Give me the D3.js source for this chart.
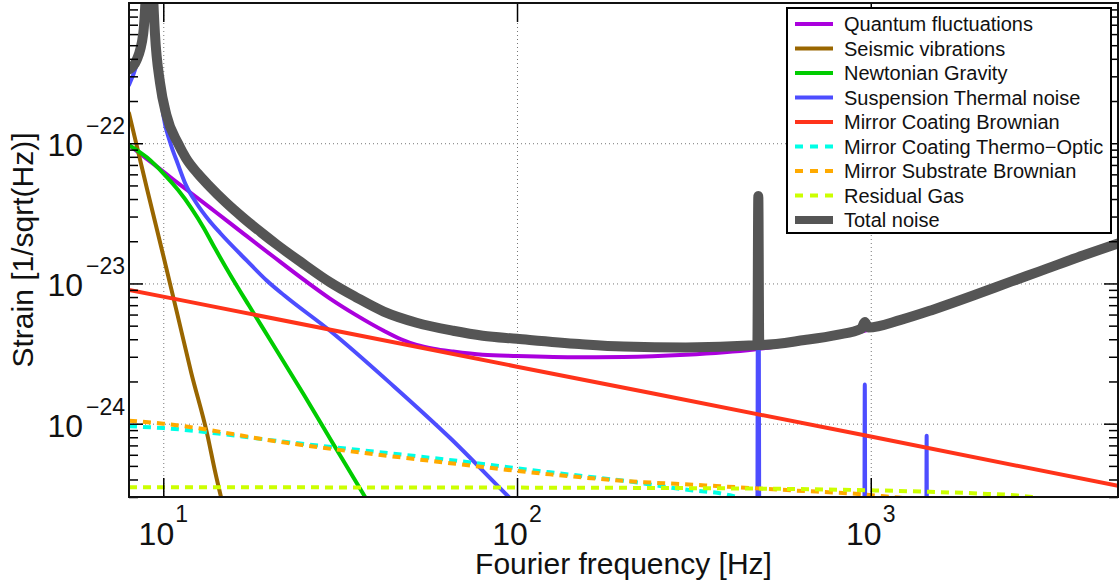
<!DOCTYPE html>
<html>
<head>
<meta charset="utf-8">
<script src="https://cdn.jsdelivr.net/npm/d3@7"></script>
<style>
  body { margin: 0; background: #fff; }
  svg { display: block; font-family: "Liberation Sans", Arial, Helvetica, sans-serif; }
</style>
</head>
<body>
<div id="chart"></div>
<script>
// axis ranges
const xDomain = [8, 5000]
const yDomain = [3e-25, 1e-21]
const xMajor = [10, 100, 1000]

// noise curves, [frequency Hz, strain 1/sqrt(Hz)]
const quantum = [[8, 9.7e-23], [9, 7.7e-23], [10, 6.28e-23], [11, 5.2e-23], [12, 4.4e-23], [14, 3.26e-23],
  [17, 2.23e-23], [20.5, 1.55e-23], [25, 1.06e-23], [29.6, 7.8e-24], [35, 5.97e-24], [42, 4.6e-24],
  [47, 4.0e-24], [52, 3.65e-24], [58, 3.43e-24], [66, 3.27e-24], [80, 3.1e-24], [100, 3.04e-24],
  [150, 2.98e-24], [200, 2.99e-24], [300, 3.1e-24], [468, 3.38e-24], [650, 3.8e-24], [803, 4.16e-24],
  [1000, 4.7e-24], [1216, 5.4e-24], [1500, 6.4e-24], [2000, 8.3e-24], [2490, 1.02e-23], [3000, 1.21e-23],
  [4000, 1.58e-23], [5000, 1.92e-23]]
const seismic = [[8, 1.64e-22], [9, 4.7e-23], [10, 1.58e-23], [11, 5.8e-24], [12, 2.3e-24], [13.3, 8.5e-25],
  [14, 4.6e-25], [15, 2.2e-25]]
const newtonian = [[8, 9.7e-23], [9, 7.9e-23], [10, 6.1e-23], [11, 4.65e-23], [12, 3.45e-23], [13, 2.5e-23],
  [14, 1.78e-23], [15.5, 1.14e-23], [17.5, 6.9e-24], [20, 4.0e-24], [25, 1.6e-24], [30, 7.4e-25],
  [37.2, 3.0e-25], [40, 2.2e-25]]
const suspension = [[8, 2.6e-22], [8.4, 3.6e-22], [8.78, 5.8e-22], [8.9, 1e-21], [9.1, 5e-21], [9.2, 5e-21],
  [9.37, 1e-21], [9.47, 5.8e-22], [9.79, 2.5e-22], [10, 1.59e-22], [10.45, 1.02e-22], [11, 7.1e-23],
  [11.6, 5.0e-23], [12.4, 3.75e-23], [13.5, 2.8e-23], [14.5, 2.28e-23], [17.2, 1.46e-23], [19.6, 1.05e-23],
  [22, 8.2e-24], [29.6, 4.6e-24], [44.8, 1.85e-24], [64.7, 7.9e-25], [96.8, 2.85e-25], [120, 1.7e-25],
  [200, 5e-26], [476, 5e-27], [481, 4.2e-23], [486, 5e-27], [957, 5e-27], [962, 1.9e-24], [967, 5e-27],
  [1432, 5e-27], [1439, 8.2e-25], [1446, 5e-27], [5000, 1e-28]]
const coatingBrownian = [[8, 9.0e-24], [100, 2.55e-24], [1000, 8.1e-25], [5000, 3.6e-25]]
const coatingThermoOptic = [[8, 9.6e-25], [10, 9.3e-25], [22.3, 7.4e-25], [69, 5.4e-25], [124, 4.5e-25],
  [219, 3.8e-25], [296, 3.4e-25], [385, 3.15e-25], [420, 3.0e-25], [480, 2.7e-25], [600, 2.2e-25]]
const substrateBrownian = [[8, 1.05e-24], [10, 1.0e-24], [22.3, 7.3e-25], [66, 5.2e-25], [124, 4.35e-25],
  [219, 3.85e-25], [296, 3.7e-25], [593, 3.35e-25], [957, 3.13e-25], [1200, 2.97e-25], [1500, 2.85e-25]]
const residualGas = [[8, 3.52e-25], [100, 3.5e-25], [300, 3.47e-25], [556, 3.43e-25], [1000, 3.35e-25],
  [1384, 3.28e-25], [2000, 3.18e-25], [2654, 3.06e-25], [3000, 2.95e-25], [5000, 2.6e-25]]
const total = [[8, 3.36e-22], [8.4, 3.9e-22], [8.78, 6.1e-22], [8.9, 1e-21], [9.1, 5e-21], [9.2, 5e-21],
  [9.37, 1.05e-21], [9.47, 6.1e-22], [9.79, 2.7e-22], [10.2, 1.6e-22], [11, 1.0e-22], [11.6, 7.8e-23],
  [12.5, 6.1e-23], [13.55, 4.9e-23], [15, 3.8e-23], [16.8, 2.95e-23], [19, 2.29e-23], [20.9, 1.9e-23],
  [24.4, 1.43e-23], [29.6, 1.02e-23], [35, 8.0e-24], [42, 6.3e-24], [52, 5.25e-24], [66, 4.6e-24],
  [80, 4.24e-24], [100, 4.03e-24], [150, 3.7e-24], [200, 3.55e-24], [300, 3.5e-24], [470, 3.62e-24],
  [478, 3.63e-24], [481, 4.2e-23], [484, 3.64e-24], [650, 3.95e-24], [803, 4.3e-24], [940, 4.75e-24],
  [962, 5.3e-24], [985, 4.85e-24], [1216, 5.5e-24], [1500, 6.5e-24], [2000, 8.4e-24], [2490, 1.03e-23],
  [3000, 1.22e-23], [4000, 1.59e-23], [5000, 1.93e-23]]

const labels = ["Quantum fluctuations", "Seismic vibrations", "Newtonian Gravity", "Suspension Thermal noise",
  "Mirror Coating Brownian", "Mirror Coating Thermo\u2212Optic", "Mirror Substrate Brownian", "Residual Gas", "Total noise"]
const curves = [quantum, seismic, newtonian, suspension, coatingBrownian, coatingThermoOptic, substrateBrownian, residualGas, total]

// styles
const colors = ["#aa00dd", "#996600", "#00cc00", "#4d4dff", "#ff331a", "#00ffe6", "#ffaa00", "#ccff00", "#555555"]
const dashed = [false, false, false, false, false, true, true, true, false]
const widths = [4, 4, 4, 4, 4, 4, 4, 4, 10]

const W = 1119, H = 586
const margin = {top: 3, right: 1, bottom: 89, left: 129}
const width = W - margin.left - margin.right
const height = H - margin.top - margin.bottom

const svg = d3.select("#chart").append("svg")
  .attr("width", W)
  .attr("height", H)

const g = svg.append("g")
  .attr("transform", `translate(${margin.left},${margin.top})`)

const x = d3.scaleLog().domain(xDomain).range([0, width])
const y = d3.scaleLog().domain(yDomain).range([height, 0])

const isMajor = v => Math.abs(Math.log10(v) - Math.round(Math.log10(v))) < 1e-6
const yTicks = y.ticks().filter(v => v < yDomain[1] * 0.999)
const yMajor = yTicks.filter(isMajor)
const yMinor = yTicks.filter(v => !isMajor(v))

// dotted grid
g.append("g")
  .attr("class", "grid")
  .call(d3.axisBottom(x).tickValues(xMajor).tickSize(height).tickFormat(""))
g.append("g")
  .attr("class", "grid")
  .call(d3.axisLeft(y).tickValues(yMajor).tickSize(-width).tickFormat(""))
g.selectAll(".grid .domain").remove()
g.selectAll(".grid line")
  .attr("stroke", "#777")
  .attr("stroke-width", 1)
  .attr("stroke-dasharray", "1,3")

// curves
g.append("clipPath").attr("id", "plotclip")
  .append("rect").attr("width", width).attr("height", height)

const line = d3.line()
  .x(d => x(d[0]))
  .y(d => y(d[1]))
  .curve(d3.curveMonotoneX)

const plot = g.append("g").attr("clip-path", "url(#plotclip)")
curves.forEach((data, i) => {
  plot.append("path")
    .datum(data)
    .attr("d", line)
    .attr("fill", "none")
    .attr("stroke", colors[i])
    .attr("stroke-width", widths[i])
    .attr("stroke-linejoin", "round")
    .attr("stroke-linecap", dashed[i] ? "butt" : "round")
    .attr("stroke-dasharray", dashed[i] ? "8,6" : null)
})

// inward ticks on all four sides
g.append("g").attr("class", "ticks")
  .call(d3.axisLeft(y).tickValues(yMajor).tickSizeInner(-14).tickSizeOuter(0).tickFormat(""))
g.append("g").attr("class", "ticks")
  .call(d3.axisLeft(y).tickValues(yMinor).tickSizeInner(-9).tickSizeOuter(0).tickFormat(""))
g.append("g").attr("class", "ticks").attr("transform", `translate(${width},0)`)
  .call(d3.axisRight(y).tickValues(yMajor).tickSizeInner(-14).tickSizeOuter(0).tickFormat(""))
g.append("g").attr("class", "ticks").attr("transform", `translate(${width},0)`)
  .call(d3.axisRight(y).tickValues(yMinor).tickSizeInner(-9).tickSizeOuter(0).tickFormat(""))
g.append("g").attr("class", "ticks").attr("transform", `translate(0,${height})`)
  .call(d3.axisBottom(x).tickValues(xMajor).tickSizeInner(-19).tickSizeOuter(0).tickFormat(""))
g.append("g").attr("class", "ticks")
  .call(d3.axisTop(x).tickValues(xMajor).tickSizeInner(-19).tickSizeOuter(0).tickFormat(""))
g.selectAll(".ticks .domain").remove()
g.selectAll(".ticks line").attr("stroke", "#000").attr("stroke-width", 1.5)

// frame
g.append("rect")
  .attr("width", width)
  .attr("height", height)
  .attr("fill", "none")
  .attr("stroke", "#111")
  .attr("stroke-width", 2)

// tick labels, 10 with exponent
const yLab = g.append("g")
yMajor.forEach(v => {
  const t = yLab.append("text")
    .attr("x", -4)
    .attr("y", y(v) + 13)
    .attr("text-anchor", "end")
    .attr("fill", "#111")
  t.append("tspan").attr("font-size", 32).text("10")
  t.append("tspan").attr("font-size", 23).attr("dx", 3).attr("dy", -22)
    .text(String(Math.round(Math.log10(v))).replace("-", "\u2212"))
})
const xLab = g.append("g")
xMajor.forEach(v => {
  const t = xLab.append("text")
    .attr("x", x(v))
    .attr("y", height + 48)
    .attr("text-anchor", "middle")
    .attr("fill", "#111")
  t.append("tspan").attr("font-size", 32).text("10")
  t.append("tspan").attr("font-size", 23).attr("dx", 1).attr("dy", -23).text(String(Math.round(Math.log10(v))))
})

// axis titles
g.append("text")
  .attr("x", width / 2)
  .attr("y", height + 77)
  .attr("text-anchor", "middle")
  .attr("font-size", 30)
  .attr("fill", "#111")
  .text("Fourier frequency [Hz]")

g.append("text")
  .attr("transform", `translate(${33 - margin.left},${height / 2}) rotate(-90)`)
  .attr("text-anchor", "middle")
  .attr("font-size", 30)
  .attr("fill", "#111")
  .text("Strain [1/sqrt(Hz)]")

// legend
const lx = 787 - margin.left, ly = 8 - margin.top
const legend = g.append("g").attr("transform", `translate(${lx},${ly})`)
legend.append("rect")
  .attr("width", 324)
  .attr("height", 225)
  .attr("fill", "#fff")
  .attr("stroke", "#000")
  .attr("stroke-width", 2)
labels.forEach((name, i) => {
  const ry = 16 + i * 24.5
  legend.append("line")
    .attr("x1", 8).attr("x2", 46)
    .attr("y1", ry).attr("y2", ry)
    .attr("stroke", colors[i])
    .attr("stroke-width", i === 8 ? 8 : 4)
    .attr("stroke-dasharray", dashed[i] ? "8,7" : null)
  legend.append("text")
    .attr("x", 57)
    .attr("y", ry + 7)
    .attr("font-size", 20)
    .attr("fill", "#111")
    .text(name)
})
</script>
</body>
</html>
